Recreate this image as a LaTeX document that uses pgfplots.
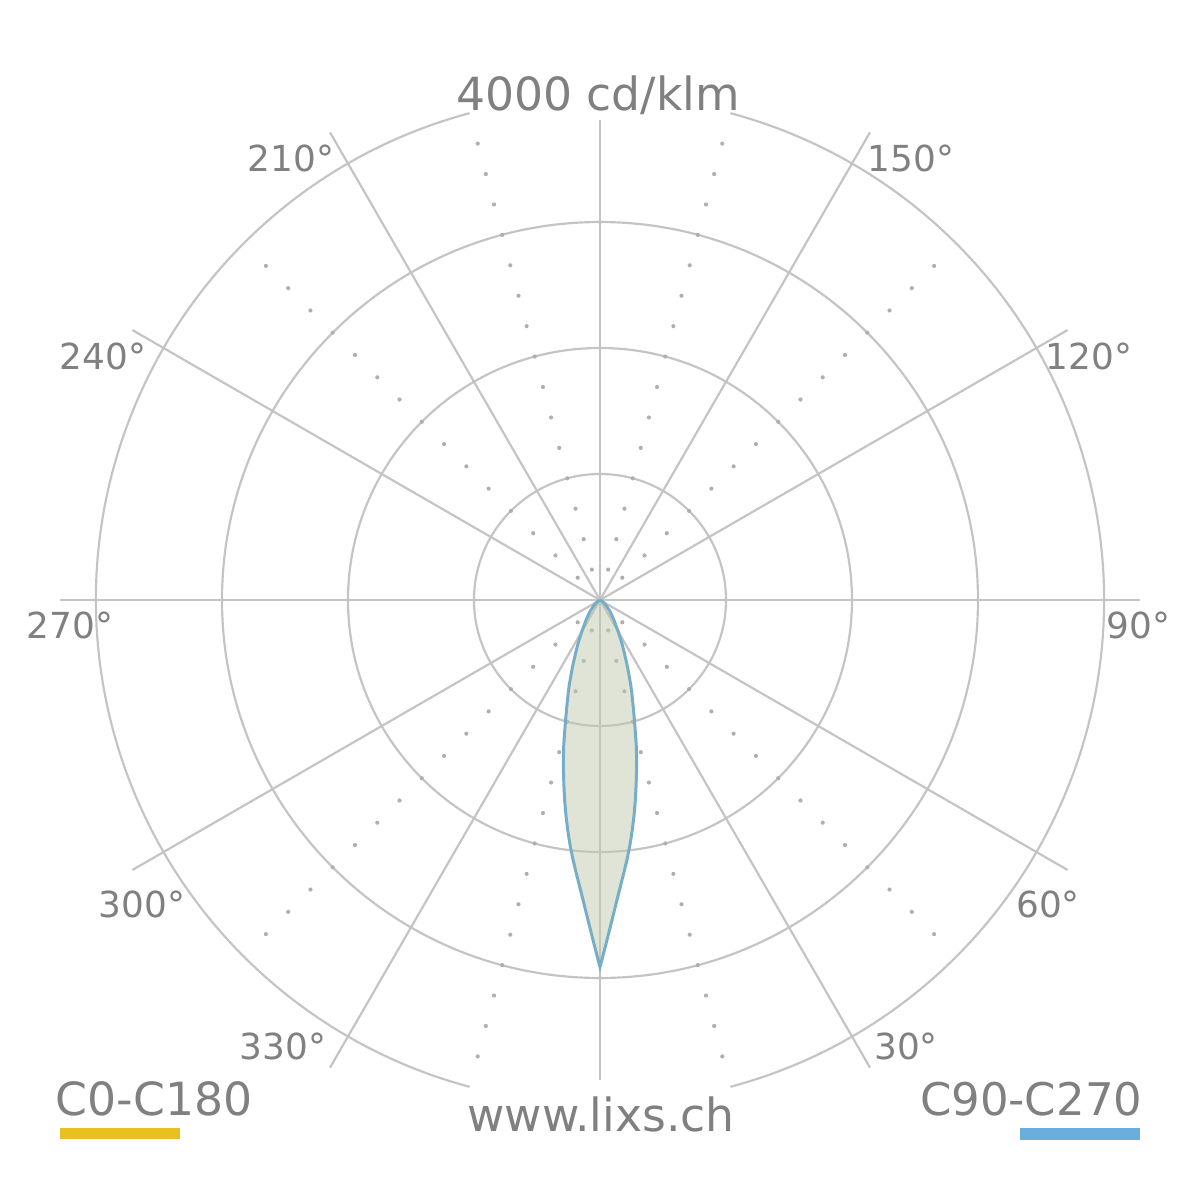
\documentclass[border=0pt]{standalone}
\usepackage{pgfplots}
\usepackage{pgfplotstable}
\pgfplotsset{compat=1.18}
\usepackage{fontspec}
\setmainfont{DejaVu Sans}

\definecolor{gridc}{RGB}{196,196,196}
\definecolor{dotc}{RGB}{175,175,175}
\definecolor{txtc}{RGB}{128,128,128}
\definecolor{fillc}{RGB}{191,201,173}
\definecolor{curveb}{RGB}{118,174,200}
\definecolor{yel}{RGB}{232,192,32}
\definecolor{blu}{RGB}{106,174,222}

% luminous intensity, angle from nadir (deg) vs cd/klm
\pgfplotstableread{
t I
-75 0
-65 10
-55 30
-48 62
-42 115
-38 151
-35 193
-32 237
-30 290
-29 314
-28 346
-27 379
-26 413
-25 450
-24 490
-23 539
-22 591
-21 645
-20 710
-19 772
-18 835
-17 909
-16 991
-15 1084
-14 1190
-13 1293
-12 1395
-11 1501
-10 1615
-9 1728
-8 1842
-7 1955
-6 2065
-5 2173
-4 2287
-3 2417
-2 2565
-1 2730
0 2913
1 2730
2 2565
3 2417
4 2287
5 2173
6 2065
7 1955
8 1842
9 1728
10 1615
11 1501
12 1395
13 1293
14 1190
15 1084
16 991
17 909
18 835
19 772
20 710
21 645
22 591
23 539
24 490
25 450
26 413
27 379
28 346
29 314
30 290
32 237
35 193
38 151
42 115
48 62
55 30
65 10
75 0
}\ldc

\begin{document}
\begin{tikzpicture}
\path[use as bounding box] (-6,-6) rectangle (6,6);
% grid
\begin{scope}[draw=gridc, line width=0.62pt]
  \foreach \r in {1.26,2.52,3.78} \draw (0,0) circle[radius=\r cm];
  \draw (-75:5.04cm) arc[start angle=-75, end angle=75, radius=5.04cm];
  \draw (105:5.04cm) arc[start angle=105, end angle=255, radius=5.04cm];
  \foreach \a in {0,30,60,120,150,180,210,240,300,330} \draw (0,0) -- (\a:5.4cm);
  \draw (0,-4.8) -- (0,4.8);
\end{scope}
\foreach \a in {45,75,105,135,225,255,285,315}
  \foreach \r in {1,...,15}
    \fill[dotc] ({\a}:{0.315*\r}) circle[radius=0.021cm];

\begin{axis}[
    at={(0,0)}, anchor=center,
    width=12cm, height=12cm, scale only axis,
    xmin=-4761.9, xmax=4761.9, ymin=-4761.9, ymax=4761.9,
    hide axis, clip=false]
  \addplot[data cs=polar, fill=fillc, fill opacity=0.5, draw=none]
    table[x expr=\thisrow{t}-90, y=I] {\ldc};
  \addplot[data cs=polar, draw=yel, line width=0.4pt]
    table[x expr=\thisrow{t}-90, y=I] {\ldc};
  \addplot[data cs=polar, draw=curveb, line width=0.85pt]
    table[x expr=\thisrow{t}-90, y=I] {\ldc};
\end{axis}

% labels
\begin{scope}[txtc, every node/.style={inner sep=0pt}]
  \node[font=\fontsize{13pt}{15pt}\selectfont, anchor=base] at (-0.02,4.90) {4000 cd/klm};
  \node[font=\fontsize{13pt}{15pt}\selectfont, anchor=base] at (0.01,-5.31) {www.lixs.ch};
  \node[font=\fontsize{13pt}{15pt}\selectfont, anchor=base west] at (-5.45,-5.15) {C0-C180};
  \node[font=\fontsize{12.8pt}{15pt}\selectfont, anchor=base east] at (5.43,-5.15) {C90-C270};
  \begin{scope}[every node/.append style={font=\fontsize{10.2pt}{12pt}\selectfont, anchor=center}]
    \node at (5.385,-0.25) {90°};
    \node at (-5.30,-0.25) {270°};
    \node at (4.48,-3.04) {60°};
    \node at (-4.58,-3.04) {300°};
    \node at (3.06,-4.46) {30°};
    \node at (-3.17,-4.46) {330°};
    \node at (4.89,2.44) {120°};
    \node at (-4.97,2.44) {240°};
    \node at (3.11,4.42) {150°};
    \node at (-3.09,4.42) {210°};
  \end{scope}
\end{scope}
\fill[yel] (-5.40,-5.28) rectangle (-4.20,-5.39);
\fill[blu] (4.20,-5.28) rectangle (5.40,-5.40);
\end{tikzpicture}
\end{document}
